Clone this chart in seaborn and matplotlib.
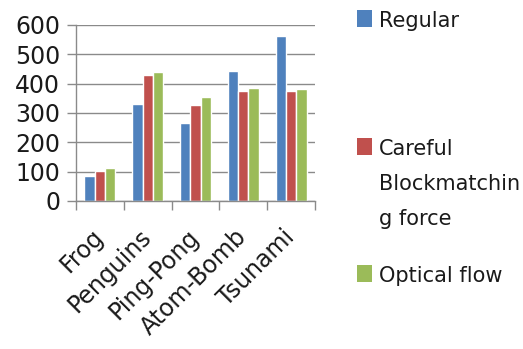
import matplotlib
matplotlib.use("Agg")
import matplotlib.pyplot as plt
from matplotlib.patches import Rectangle
import seaborn as sns
import pandas as pd
import numpy as np

# Video clips and processing-time values for each method
clips = ["Frog", "Penguins", "Ping-Pong", "Atom-Bomb", "Tsunami"]
regular = [84, 331, 267, 444, 564]
careful_blockmatching = [103, 430, 326, 375, 375]
optical_flow = [114, 440, 356, 385, 381]

methods = ["Regular", "Careful Blockmatching force", "Optical flow"]
legend_labels = ["Regular", "Careful\nBlockmatchin\ng force", "Optical flow"]
colors = ["#4F81BD", "#C0504D", "#9BBB59"]
y_ticks = [0, 100, 200, 300, 400, 500, 600]

df = pd.DataFrame({
    "clip": clips * 3,
    "method": [m for m in methods for _ in clips],
    "value": regular + careful_blockmatching + optical_flow,
})

sns.set_theme(style="white")
plt.rcParams["font.family"] = ["DejaVu Sans"]

W, H = 523, 349
fig = plt.figure(figsize=(W / 100, H / 100), dpi=100)
ax = fig.add_axes([76 / W, 1 - 201 / H, (315 - 76) / W, (201 - 25) / H])

sns.barplot(data=df, x="clip", y="value", hue="method", order=clips,
            hue_order=methods, palette=colors, saturation=1, width=0.65,
            legend=False, ax=ax)

grid_c = "#8A8A8A"
text_c = "#1A1A1A"

ax.set_ylim(0, 600)
ax.set_xlim(-0.5, len(clips) - 0.5)
ax.set_yticks(y_ticks)
ax.set_yticklabels([str(t) for t in y_ticks], fontsize=17, color=text_c)
ax.yaxis.grid(True, color=grid_c, linewidth=1)
ax.set_axisbelow(True)
ax.tick_params(axis="y", direction="out", length=6.5, width=1, color=grid_c, pad=5, left=True)

# category labels centred, tick marks between categories
ax.set_xticks(range(len(clips)))
ax.set_xticklabels(clips, fontsize=17, color=text_c, rotation=45,
                   ha="right", va="center", rotation_mode="anchor")
ax.tick_params(axis="x", which="major", length=0, pad=23)
ax.set_xticks(np.arange(-0.5, len(clips), 1.0), minor=True)
ax.tick_params(axis="x", which="minor", direction="out", length=6.5, width=1,
               color=grid_c, bottom=True)

ax.set_xlabel("")
ax.set_ylabel("")
for side in ["top", "right"]:
    ax.spines[side].set_visible(False)
for side in ["left", "bottom"]:
    ax.spines[side].set_color(grid_c)
    ax.spines[side].set_linewidth(1)

# legend on the right side: (top of square, top of text)
legend_rows = [(10, 11), (138, 139), (265, 266)]
for label, color, (sq_top, txt_top) in zip(legend_labels, colors, legend_rows):
    fig.patches.append(Rectangle((357 / W, 1 - (sq_top + 17) / H), 15 / W, 17 / H,
                                 transform=fig.transFigure, facecolor=color,
                                 edgecolor="none"))
    fig.text(379 / W, 1 - txt_top / H, label, fontsize=15, color=text_c,
             ha="left", va="top", linespacing=1.95)

fig.savefig("out.png", dpi=100)
